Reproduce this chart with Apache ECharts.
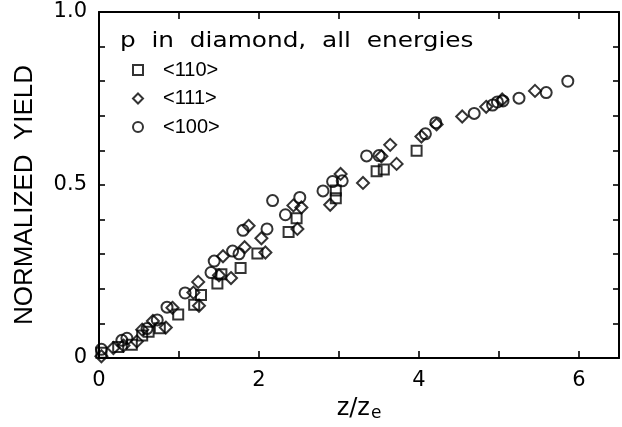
<!DOCTYPE html>
<html><head><meta charset="utf-8">
<script src="https://cdn.jsdelivr.net/npm/echarts@6/dist/echarts.min.js"></script>
<style>html,body{margin:0;padding:0;background:#fff}#c{width:622px;height:427px}</style>
</head><body><div id="c"></div>
<script>
// ---- data ----
const seriesNames = ['<110>', '<111>', '<100>'];
const x110 = [0.03, 0.24, 0.41, 0.54, 0.62, 0.76, 0.99, 1.19, 1.275, 1.48, 1.53, 1.77, 1.98, 2.37, 2.47, 2.96, 2.96, 3.47, 3.56, 3.97];
const y110 = [0.015, 0.032, 0.038, 0.065, 0.076, 0.086, 0.126, 0.154, 0.182, 0.215, 0.242, 0.260, 0.302, 0.364, 0.404, 0.462, 0.484, 0.540, 0.545, 0.599];
const x111 = [0.03, 0.18, 0.306, 0.473, 0.54, 0.674, 0.835, 0.918, 1.18, 1.25, 1.24, 1.50, 1.55, 1.65, 1.82, 1.87, 2.03, 2.08, 2.43, 2.48, 2.53, 2.89, 3.02, 3.30, 3.53, 3.64, 3.72, 4.03, 4.22, 4.54, 4.84, 5.04, 5.45];
const y111 = [0.005, 0.029, 0.036, 0.048, 0.082, 0.107, 0.088, 0.145, 0.189, 0.151, 0.220, 0.239, 0.294, 0.231, 0.320, 0.382, 0.346, 0.305, 0.441, 0.373, 0.435, 0.443, 0.532, 0.506, 0.583, 0.616, 0.561, 0.640, 0.675, 0.698, 0.726, 0.747, 0.772];
const x100 = [0.03, 0.286, 0.349, 0.60, 0.728, 0.85, 1.076, 1.40, 1.44, 1.67, 1.75, 1.80, 2.10, 2.17, 2.33, 2.51, 2.80, 2.92, 3.04, 3.345, 3.50, 4.08, 4.21, 4.69, 4.92, 4.98, 5.05, 5.25, 5.59, 5.86];
const y100 = [0.025, 0.051, 0.057, 0.085, 0.110, 0.147, 0.188, 0.247, 0.280, 0.309, 0.301, 0.369, 0.373, 0.455, 0.414, 0.464, 0.483, 0.510, 0.512, 0.584, 0.585, 0.648, 0.680, 0.707, 0.731, 0.740, 0.743, 0.751, 0.767, 0.800];
const xTickValues = [0, 2, 4, 6];
const xTickLabels = ['0', '2', '4', '6'];
const yTickValues = [0, 0.5, 1];
const yTickLabels = ['0', '0.5', '1.0'];
const titleText = 'p  in  diamond,  all  energies';
const yTitle = 'NORMALIZED  YIELD';

// ---- chart ----
const zip = (xs, ys) => xs.map((x, i) => [x, ys[i]]);
const fmt = (vals, labs) => v => { const i = vals.findIndex(t => Math.abs(t - v) < 1e-6); return i >= 0 ? labs[i] : ''; };
const markStyle = { color: 'rgba(0,0,0,0)', borderColor: '#000', borderWidth: 2 };
const axisLine = { show: true, onZero: false, lineStyle: { color: '#000', width: 2 } };
const tickStyle = { color: '#000', width: 1.6 };

const chart = echarts.init(document.getElementById('c'), null, { renderer: 'canvas' });
chart.setOption({
  animation: false,
  backgroundColor: '#fff',
  grid: { left: 99, top: 12, width: 520, height: 349 },
  legend: {
    orient: 'vertical', left: 132, top: 60, itemWidth: 10, itemHeight: 10, itemGap: 8.5, padding: 0,
    textStyle: { fontFamily: 'Liberation Sans', fontSize: 20, color: '#000', padding: [0, 0, 0, 15] },
    data: seriesNames
  },
  xAxis: [
    { type: 'value', min: 0, max: 6.5, interval: 1, position: 'bottom', axisLine,
      axisTick: { inside: true, length: 7, lineStyle: tickStyle },
      axisLabel: { formatter: fmt(xTickValues, xTickLabels), fontFamily: 'DejaVu Sans', fontSize: 21, color: '#000', margin: 12 },
      splitLine: { show: false },
      name: '{a|z/z}{b|e}', nameLocation: 'middle', nameGap: 37,
      nameTextStyle: { rich: { a: { fontFamily: 'DejaVu Sans', fontSize: 24, color: '#000' }, b: { fontFamily: 'DejaVu Sans', fontSize: 17, color: '#000', padding: [10, 0, 0, 1] } } } },
    { type: 'value', min: 0, max: 6.5, interval: 1, position: 'top', axisLine,
      axisTick: { inside: true, length: 7, lineStyle: tickStyle }, axisLabel: { show: false }, splitLine: { show: false } }
  ],
  yAxis: [
    { type: 'value', min: 0, max: 1, interval: 0.1, position: 'left', axisLine,
      axisTick: { inside: true, length: 6, lineStyle: tickStyle },
      axisLabel: { formatter: fmt(yTickValues, yTickLabels), fontFamily: 'DejaVu Sans', fontSize: 21, color: '#000', margin: 12 },
      splitLine: { show: false } },
    { type: 'value', min: 0, max: 1, interval: 0.1, position: 'right', axisLine,
      axisTick: { inside: true, length: 6, lineStyle: tickStyle }, axisLabel: { show: false }, splitLine: { show: false } }
  ],
  graphic: [
    { type: 'text', left: 120, top: 31, scaleX: 1.18, style: { text: titleText, font: '21px "DejaVu Sans"', fill: '#000' } },
    { type: 'text', x: 25, y: 195, rotation: Math.PI / 2, style: { text: yTitle, font: '26px "Liberation Sans"', fill: '#000', align: 'center', verticalAlign: 'middle' } }
  ],
  series: [
    { type: 'scatter', name: seriesNames[0], symbol: 'rect', symbolSize: 10, data: zip(x110, y110), itemStyle: markStyle, emphasis: { disabled: true } },
    { type: 'scatter', name: seriesNames[1], symbol: 'diamond', symbolSize: 12, data: zip(x111, y111), itemStyle: markStyle, emphasis: { disabled: true } },
    { type: 'scatter', name: seriesNames[2], symbol: 'circle', symbolSize: 11, data: zip(x100, y100), itemStyle: markStyle, emphasis: { disabled: true } }
  ]
});
</script></body></html>
